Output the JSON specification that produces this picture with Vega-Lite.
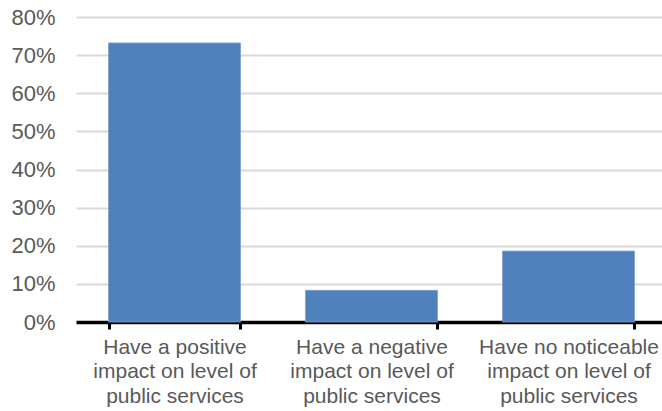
{
  "$schema": "https://vega.github.io/schema/vega-lite/v6.json",
  "width": 591,
  "height": 305,
  "autosize": {"type": "none"},
  "padding": {"left": 76, "top": 17, "right": 0, "bottom": 89},
  "background": "white",
  "config": {"view": {"stroke": null}, "font": "Liberation Sans"},
  "data": {
    "values": [
      {"category": "Have a positive|impact on level of|public services", "share": 0.732},
      {"category": "Have a negative|impact on level of|public services", "share": 0.083},
      {"category": "Have no noticeable|impact on level of|public services", "share": 0.186}
    ]
  },
  "mark": {"type": "bar", "color": "#4f81bd", "stroke": "#7da0cf", "strokeWidth": 0.8},
  "encoding": {
    "x": {
      "field": "category",
      "type": "nominal",
      "sort": null,
      "scale": {"paddingInner": 0.33, "paddingOuter": 0.165},
      "axis": {
        "title": null,
        "labelAngle": 0,
        "labelExpr": "split(datum.label, '|')",
        "labelFont": "Liberation Sans",
        "labelFontSize": 21,
        "labelColor": "#595959",
        "labelLineHeight": 24.5,
        "labelPadding": 7,
        "labelBaseline": "top",
        "domainColor": "#000000",
        "domainWidth": 3.5,
        "tickColor": "#000000",
        "tickWidth": 3,
        "tickSize": 7,
        "tickBand": "extent",
        "grid": false
      }
    },
    "y": {
      "field": "share",
      "type": "quantitative",
      "scale": {"domain": [0, 0.8], "nice": false},
      "axis": {
        "title": null,
        "format": ".0%",
        "values": [0, 0.1, 0.2, 0.3, 0.4, 0.5, 0.6, 0.7, 0.8],
        "domain": false,
        "ticks": false,
        "labelFont": "Liberation Sans",
        "labelFontSize": 22,
        "labelColor": "#595959",
        "labelPadding": 21,
        "gridColor": "#d9d9d9",
        "gridWidth": 2
      }
    }
  }
}
